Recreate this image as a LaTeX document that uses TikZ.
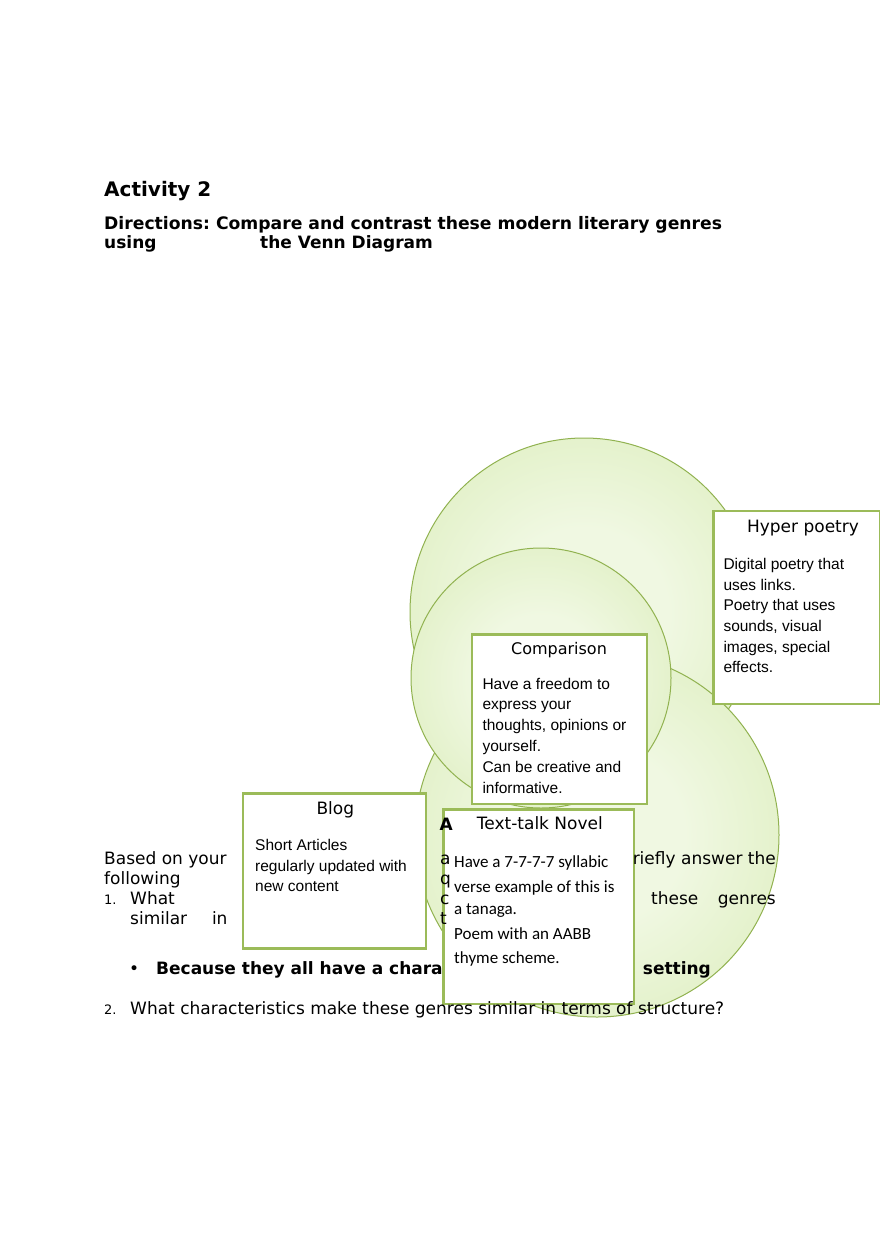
\documentclass[tikz,border=0pt]{standalone}
\usepackage{fontspec}
\setmainfont{DejaVu Sans}
\newfontfamily\arialfont{Liberation Sans}
\newfontfamily\calibrifont{Carlito}
\usepackage{xcolor}
\usetikzlibrary{positioning}
\frenchspacing
\definecolor{vennline}{RGB}{155,187,89}
\definecolor{vennedge}{RGB}{145,178,80}
\definecolor{vennin}{RGB}{240,248,226}
\definecolor{vennout}{RGB}{206,230,162}
\pgfdeclareradialshading{vennshade}{\pgfpoint{0bp}{0bp}}{color(0bp)=(vennin); color(12bp)=(vennin); color(50bp)=(vennout)}

\begin{document}
\begin{tikzpicture}[x=1pt, y=-1pt,
    venn/.style={circle, draw=vennedge, line width=1pt, shading=vennshade, inner sep=0pt},
    card/.style={rectangle, draw=vennline, line width=2.7pt, fill=white,
                 outer sep=0pt, inner sep=0pt, anchor=north west},
    cardhead/.style={font=\fontsize{17}{20}\selectfont, inner sep=0pt, anchor=base},
    cardtext/.style={font=\arialfont\fontsize{15.5}{20}\selectfont, inner sep=0pt, anchor=base west},
    novtext/.style={font=\calibrifont\fontsize{17}{20}\selectfont, inner sep=0pt, anchor=base west},
    doc/.style={font=\fontsize{17}{20}\selectfont, inner sep=0pt, anchor=base west},
    docbold/.style={font=\fontsize{17}{20}\selectfont\bfseries, inner sep=0pt, anchor=base west},
    num/.style={font=\fontsize{13}{16}\selectfont, inner sep=0pt, anchor=base west},
]
\useasboundingbox (0,0) rectangle (880,1247);

% Heading
\node[font=\fontsize{20}{24}\selectfont\bfseries, inner sep=0pt, anchor=base west] (title) at (104,196) {Activity 2};
\node[docbold, font=\fontsize{17.2}{20}\selectfont\bfseries] (dir1) at (104,229.3) {Directions: Compare and contrast these modern literary genres};
\node[docbold] (dir2) at (104,248.5) {using};
\node[docbold] (dir3) at (260,248.5) {the Venn Diagram};

% Venn circles
\node[venn, minimum size=348] (setA) at (584,612) {};
\node[venn, minimum size=364] (setC) at (597,835) {};
\node[venn, minimum size=260] (setB) at (541,678) {};

% Boxes
\node[card, minimum width=167.2, minimum height=193] (hyper) at (713.3,511) {};
\node[card, minimum width=175, minimum height=169.7] (comp) at (472,634.3) {};
\node[card, minimum width=183, minimum height=155] (blog) at (243,793.5) {};
\node[card, minimum width=190.7, minimum height=194.7] (novel) at (443.3,809.3) {};

% Box texts
\node[cardhead] (hyperhead) at (803,532.7) {Hyper poetry};
\foreach \t [count=\i] in {Digital poetry that, uses links., Poetry that uses, {sounds, visual}, {images, special}, effects.}
    \node[cardtext] (hyper-\i) at (723.3,548.6+20.7*\i) {\t};

\node[cardhead, font=\fontsize{16}{20}\selectfont] (comphead) at (559,654.3) {Comparison};
\foreach \t [count=\i] in {Have a freedom to, express your, {thoughts, opinions or}, yourself., Can be creative and, informative.}
    \node[cardtext] (comp-\i) at (482.3,668.2+20.8*\i) {\t};

\node[cardhead] (bloghead) at (335.3,814.3) {Blog};
\foreach \t [count=\i] in {Short Articles, regularly updated with, new content}
    \node[cardtext] (blog-\i) at (255,830.2+20.5*\i) {\t};

\node[docbold] (novelmark) at (439.3,830.7) {A};
\node[cardhead, anchor=base west] (novelhead) at (476.7,829) {Text-talk Novel};
\foreach \t/\y [count=\i] in {Have a 7-7-7-7 syllabic/867.7, verse example of this is/892, a tanaga./914.3, Poem with an AABB/939.3, thyme scheme./963.3}
    \node[novtext] (novel-\i) at (454,\y) {\t};

% Questions
\node[doc] (q0a) at (104,864.3) {Based on your};
\node[doc] (q0b) at (440,864.3) {a};
\node[doc, anchor=base east] (q0c) at (776,864.3) {riefly answer the};
\node[doc] (q0d) at (104,884.3) {following};
\node[doc] (q0e) at (440,884.3) {q};
\node[num] (q1n) at (104,904.3) {1.};
\node[doc] (q1a) at (130,904.3) {What};
\node[doc] (q1b) at (440,904.3) {c};
\node[doc] (q1c) at (651,904.3) {these};
\node[doc, anchor=base east] (q1d) at (776,904.3) {genres};
\node[doc] (q1e) at (130,924.3) {similar};
\node[doc, anchor=base east] (q1f) at (227.7,924.3) {in};
\node[doc] (q1g) at (440,924.3) {t};
\node[doc] (a1n) at (129,974.3) {•};
\node[docbold] (a1a) at (156,974.3) {Because they all have a chara};
\node[docbold] (a1b) at (642.7,974.3) {setting};
\node[num] (q2n) at (104,1014) {2.};
\node[doc] (q2a) at (130,1014) {What characteristics make these genres similar in terms of structure?};
\end{tikzpicture}
\end{document}
